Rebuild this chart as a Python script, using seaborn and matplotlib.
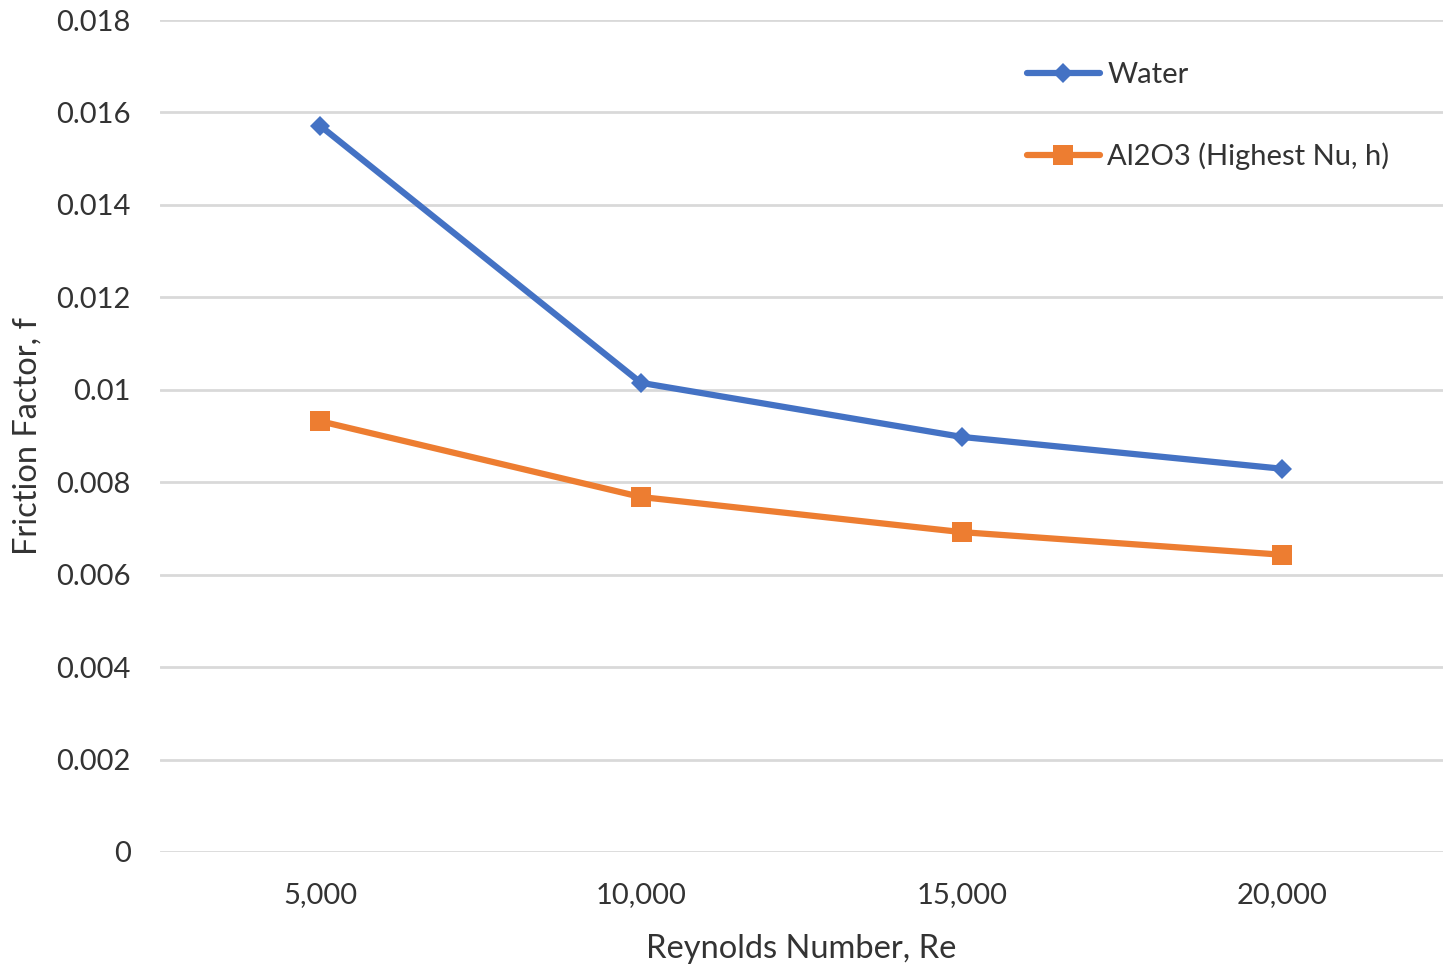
import matplotlib
matplotlib.use("Agg")
import matplotlib.pyplot as plt
import seaborn as sns
import pandas as pd
from matplotlib.lines import Line2D

reynolds = [5000, 10000, 15000, 20000]
water = [0.01571, 0.01015, 0.00898, 0.00829]
al2o3 = [0.00932, 0.00768, 0.00692, 0.00643]
series_names = ["Water", "Al2O3 (Highest Nu, h)"]
y_ticks = [0, 0.002, 0.004, 0.006, 0.008, 0.01, 0.012, 0.014, 0.016, 0.018]
y_tick_labels = ["0", "0.002", "0.004", "0.006", "0.008", "0.01", "0.012", "0.014", "0.016", "0.018"]
x_tick_labels = ["5,000", "10,000", "15,000", "20,000"]

df = pd.DataFrame({
    "Re": reynolds * 2,
    "f": water + al2o3,
    "Series": [series_names[0]] * 4 + [series_names[1]] * 4,
})

sns.set_theme(style="white")
plt.rcParams["font.family"] = ["Lato", "DejaVu Sans"]

text_color = "#333333"
fig = plt.figure(figsize=(14.53, 9.71), dpi=100)
ax = fig.add_axes([0.110, 0.1226, 0.883, 0.8568])

palette = {series_names[0]: "#4472C4", series_names[1]: "#ED7D31"}
markers = {series_names[0]: "D", series_names[1]: "s"}
sns.lineplot(data=df, x="Re", y="f", hue="Series", style="Series",
             palette=palette, markers=markers, dashes=False,
             linewidth=4.5, ax=ax, legend=False)

for line, name in zip(ax.lines, series_names):
    if name == series_names[0]:
        line.set_markersize(10)
    else:
        line.set_markersize(15)
    line.set_markeredgewidth(0)

ax.set_xlim(2500, 22500)
ax.set_ylim(0, 0.018)
ax.set_yticks(y_ticks)
ax.set_yticklabels(y_tick_labels)
ax.set_xticks(reynolds)
ax.set_xticklabels(x_tick_labels)
ax.tick_params(axis="both", length=0, labelsize=21, colors=text_color)
ax.tick_params(axis="y", pad=21)
ax.tick_params(axis="x", pad=22)
ax.yaxis.grid(True, color="#D9D9D9", linewidth=2)
ax.xaxis.grid(False)
ax.set_axisbelow(True)
for s in ax.spines.values():
    s.set_visible(False)

ax.set_xlabel("Reynolds Number, Re", fontsize=23.5, color=text_color, labelpad=18)
ax.set_ylabel("Friction Factor, f", fontsize=23.5, color=text_color, labelpad=10)

handles = [
    Line2D([], [], color="#4472C4", linewidth=4.5, marker="D", markersize=10, markeredgewidth=0),
    Line2D([], [], color="#ED7D31", linewidth=4.5, marker="s", markersize=15, markeredgewidth=0),
]
fig.legend(handles, series_names, loc="upper left", bbox_to_anchor=(0.7068, 0.936),
           frameon=False, fontsize=21, labelcolor=text_color, handlelength=2.5,
           handletextpad=0.25, labelspacing=1.85, borderpad=0, borderaxespad=0)

fig.savefig("out.png", dpi=100, facecolor="white")
